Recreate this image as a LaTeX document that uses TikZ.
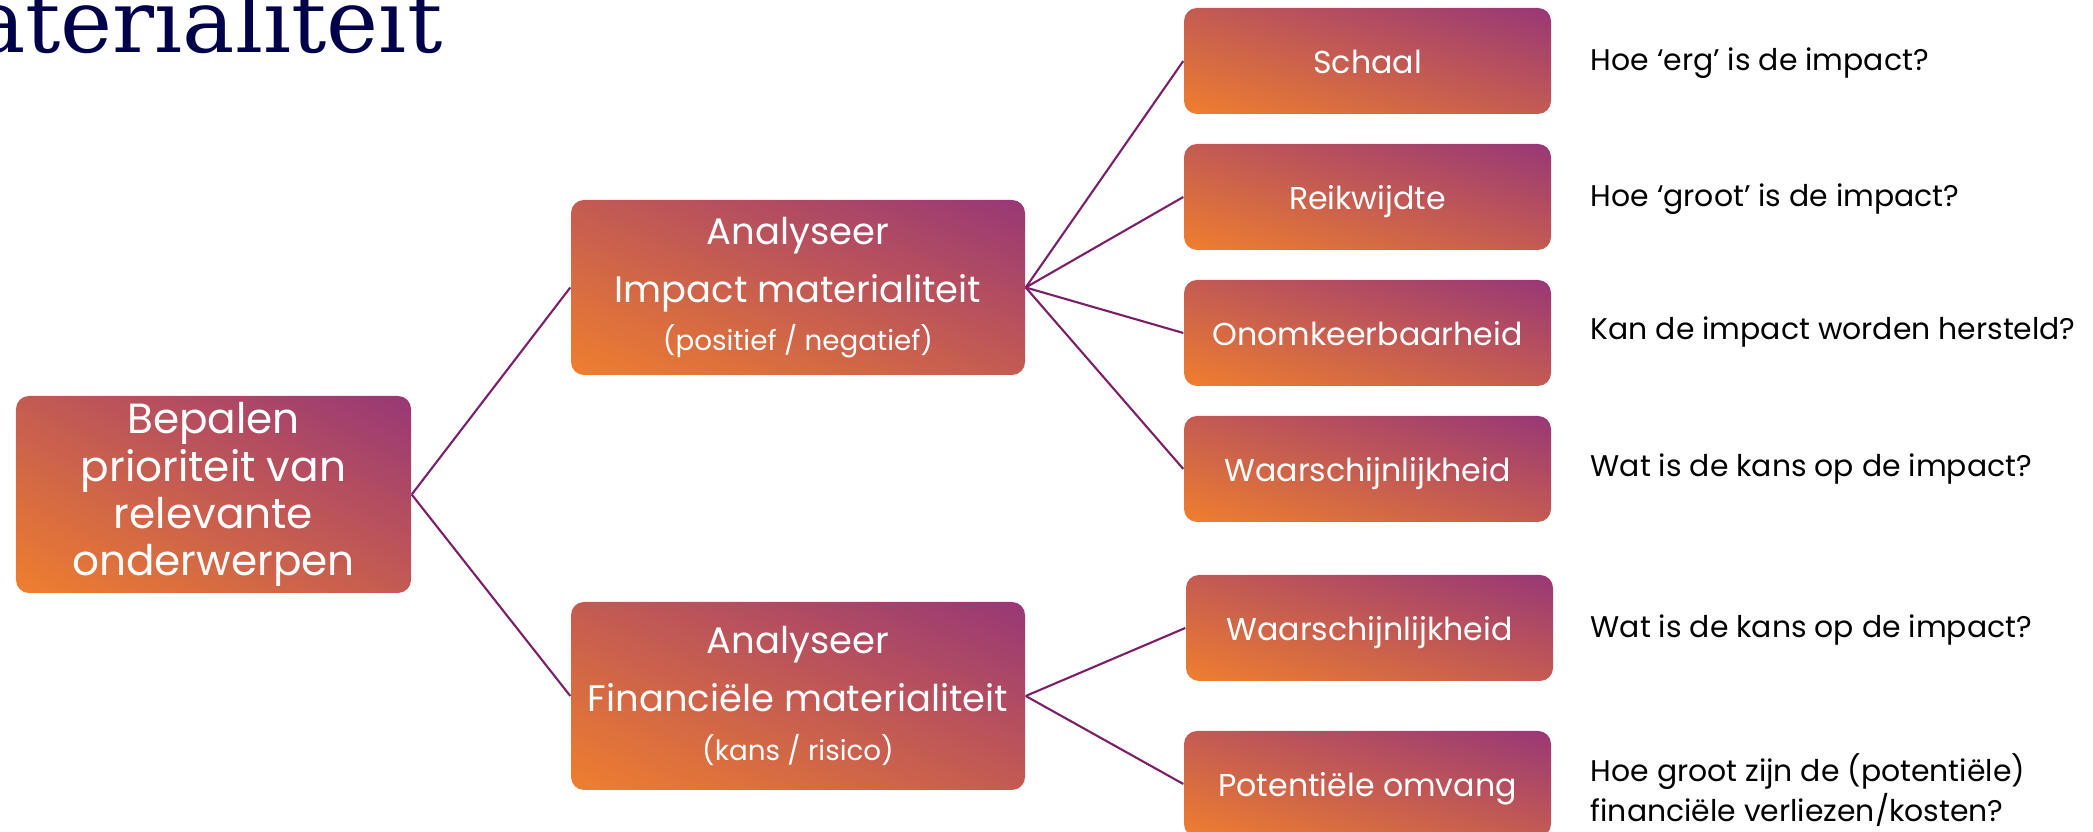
\documentclass[tikz,border=0pt]{standalone}
\usepackage{fontspec}
\setmainfont{Poppins}
\newfontfamily\titlefont{DejaVu Serif}
\usepackage{xcolor}
\usetikzlibrary{calc}
\definecolor{link}{HTML}{7A1F68}
\definecolor{navy}{HTML}{02024A}
% orange (bottom left) to plum (top right), along the box diagonal
\pgfdeclarefunctionalshading{boxfade}{\pgfpointorigin}{\pgfpoint{100bp}{100bp}}{}{
  add 50 sub 100 div
  dup -0.341 mul 0.937 add
  exch dup -0.282 mul 0.498 add
  exch 0.287 mul 0.180 add
}
\tikzset{
  box/.style={rounded corners=0.13cm, shading=boxfade, shading angle=0,
    text=white, align=center, inner sep=0pt},
  rootbox/.style={box, minimum width=3.95cm, minimum height=1.97cm, font=\fontsize{12}{13.4}\selectfont},
  analysebox/.style={box, minimum width=4.54cm, font=\fontsize{10.5}{16.5}\selectfont},
  factorbox/.style={box, minimum width=3.67cm, minimum height=1.06cm, text height=0.7em, text depth=0pt,
    font=\fontsize{9}{10}\selectfont},
  question/.style={anchor=west, align=left, inner sep=0pt, font=\fontsize{8.5}{9.9}\selectfont},
  connector/.style={draw=link, line width=0.6pt},
}
\begin{document}
\begin{tikzpicture}
  \useasboundingbox (0,0) rectangle (20.93,8.32);
  % title, cut off at the page edge
  \node[anchor=base east, inner sep=0pt, text=navy, font=\titlefont\fontsize{25}{30}\selectfont] (title) at (4.43,7.79) {materialiteit};

  % main boxes
  \node[rootbox] (root) at (2.135,3.375) {Bepalen\\prioriteit van\\relevante\\onderwerpen};
  \node[analysebox, minimum height=1.75cm] (impact) at (7.98,5.445)
    {Analyseer\\Impact materialiteit\\[-2.8pt]{\fontsize{7.9}{9}\selectfont (positief / negatief)}};
  \node[analysebox, minimum height=1.88cm] (finance) at (7.98,1.36)
    {Analyseer\\Financiële materialiteit\\[-2.8pt]{\fontsize{7.9}{9}\selectfont (kans / risico)}};

  % impact factors
  \node[factorbox] (scale) at (13.675,7.71) {Schaal};
  \node[factorbox] (reach) at (13.675,6.35) {Reikwijdte};
  \node[factorbox] (irrev) at (13.675,4.99) {Onomkeerbaarheid};
  \node[factorbox] (prob) at (13.675,3.63) {Waarschijnlijkheid};

  % financial factors
  \node[factorbox] (fprob) at (13.695,2.04) {Waarschijnlijkheid};
  \node[factorbox] (size) at (13.675,0.48) {Potentiële omvang};

  % questions
  \node[question] (qscale) at (15.90,7.69) {Hoe ‘erg’ is de impact?};
  \node[question] (qreach) at (15.90,6.33) {Hoe ‘groot’ is de impact?};
  \node[question] (qirrev) at (15.90,5.00) {Kan de impact worden hersteld?};
  \node[question] (qprob) at (15.90,3.63) {Wat is de kans op de impact?};
  \node[question] (qfprob) at (15.90,2.02) {Wat is de kans op de impact?};
  \node[question] (qsize) at (15.90,0.42) {Hoe groot zijn de (potentiële)\\financiële verliezen/kosten?};

  % connectors
  \draw[connector] (root.east) -- (impact.west);
  \draw[connector] (root.east) -- (finance.west);
  \draw[connector] (impact.east) -- (scale.west);
  \draw[connector] (impact.east) -- (reach.west);
  \draw[connector] (impact.east) -- (irrev.west);
  \draw[connector] (impact.east) -- (prob.west);
  \draw[connector] (finance.east) -- (fprob.west);
  \draw[connector] (finance.east) -- (size.west);
\end{tikzpicture}
\end{document}
